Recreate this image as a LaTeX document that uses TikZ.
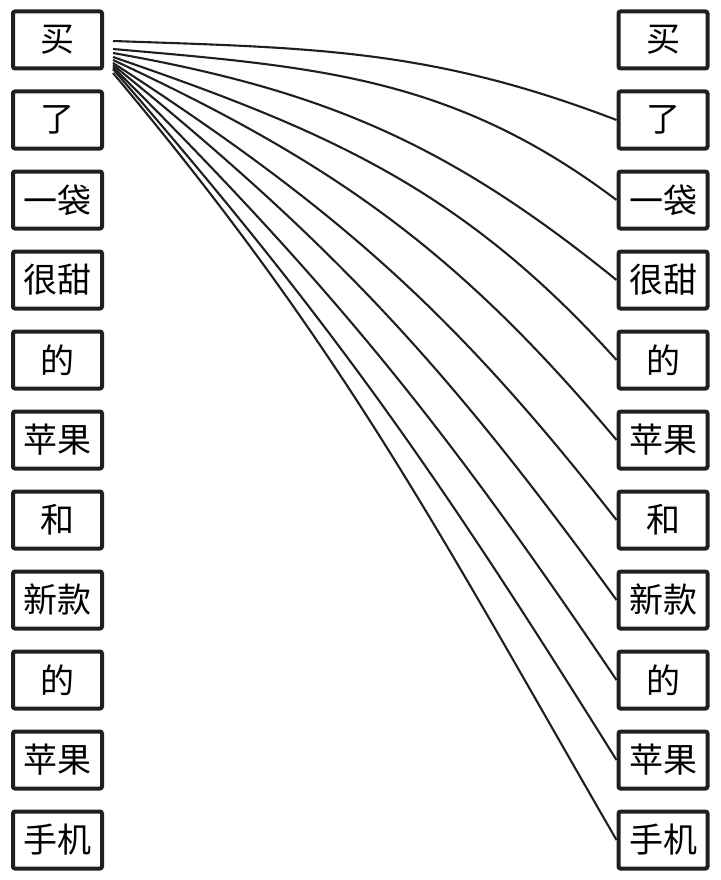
\documentclass[tikz,border=0pt]{standalone}
\usepackage{fontspec}
\newfontfamily\cjk{Noto Sans CJK SC}
\usetikzlibrary{positioning}

\begin{document}
\begin{tikzpicture}[
    x=1pt, y=1pt,
    tok/.style={
        draw=black!88,
        line width=4pt,
        rounded corners=2pt,
        minimum width=89pt,
        minimum height=57pt,
        inner sep=0pt,
        font=\cjk\fontsize{34}{34}\selectfont
    },
    link/.style={
        line width=2.1pt,
        black!88
    }
]
\useasboundingbox (0,0) rectangle (720,-880);

% Tokens, left and right columns
\foreach \w [count=\i] in {买,了,一袋,很甜,的,苹果,和,新款,的,苹果,手机} {
    \node[tok] (l\i) at (57.5,{-40-80*(\i-1)}) {\w};
    \node[tok] (r\i) at (663,{-40-80*(\i-1)}) {\w};
}

% Links from the first token
\foreach \j/\dy/\s/\e in {2/1/2/21, 3/9/5/37, 4/13/10/39, 5/17/19/48, 6/20/25/50,
                          7/23/33/52, 8/25/39/54, 9/27/45/56, 10/29/49/58, 11/33/50/60} {
    \draw[link] ([xshift=9pt,yshift=-\dy pt]l1.east) to[out=-\s,in=180-\e] (r\j.west);
}

\end{tikzpicture}
\end{document}
